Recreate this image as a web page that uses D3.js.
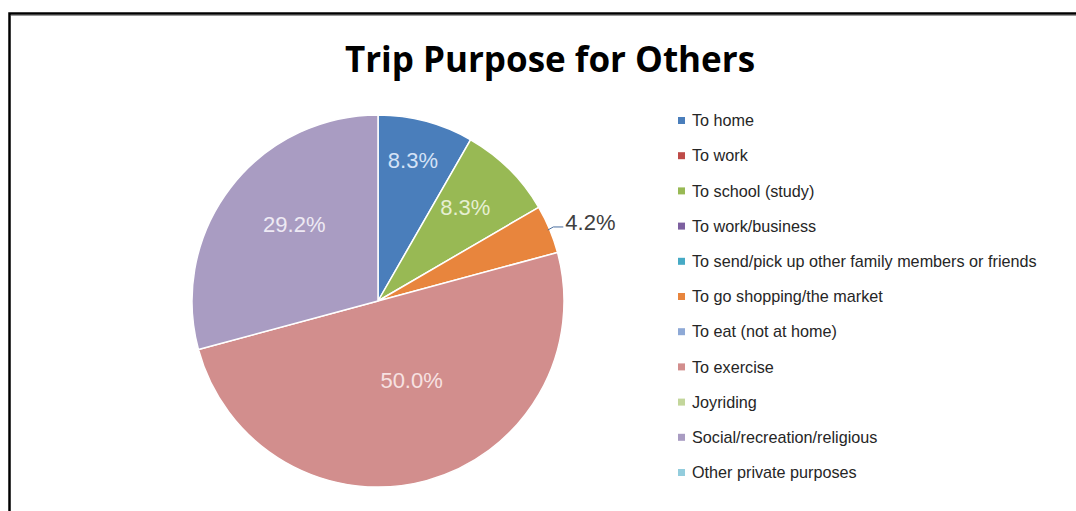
<!DOCTYPE html>
<html>
<head>
<meta charset="utf-8">
<script src="https://cdn.jsdelivr.net/npm/d3@7"></script>
<style>
  html, body { margin: 0; padding: 0; background: #fff; }
  svg { display: block; }
</style>
</head>
<body>
<svg id="chart" width="1076" height="511"></svg>
<script>
// Trip purposes (legend order) and their shares in percent
const categories = [
  "To home",
  "To work",
  "To school (study)",
  "To work/business",
  "To send/pick up other family members or friends",
  "To go shopping/the market",
  "To eat (not at home)",
  "To exercise",
  "Joyriding",
  "Social/recreation/religious",
  "Other private purposes"
];
const shares = [8.3, 0, 8.3, 0, 0, 4.2, 0, 50.0, 0, 29.2, 0];
const percentLabels = ["8.3%", "", "8.3%", "", "", "4.2%", "", "50.0%", "", "29.2%", ""];

const sliceColors = [
  "#4a7ebb", "#be4b48", "#98b954", "#7d60a0", "#46aac5", "#e8853d",
  "#8ea9d6", "#d28e8d", "#c3d69b", "#a99cc2", "#93cddd"
];
const labelColors = [
  "#d4e2f6", "#fff", "#e6efd2", "#fff", "#fff", "#404040",
  "#fff", "#f7e2e2", "#fff", "#eeeaf4", "#fff"
];

const svg = d3.select("#chart");
const W = 1076, H = 511;

// Frame around the chart
svg.append("rect")
  .attr("x", 9.5).attr("y", 13.5)
  .attr("width", W + 40).attr("height", H + 40)
  .attr("fill", "none").attr("stroke", "#000").attr("stroke-width", 2.5);
svg.append("line")
  .attr("x1", 11).attr("x2", W + 10).attr("y1", 15.5).attr("y2", 15.5)
  .attr("stroke", "#999").attr("stroke-width", 1);

// Title
svg.append("text")
  .attr("x", 550).attr("y", 72)
  .attr("text-anchor", "middle")
  .attr("font-family", "'Open Sans', 'Liberation Sans', sans-serif")
  .attr("font-weight", "bold")
  .attr("font-size", 35)
  .attr("fill", "#000")
  .text("Trip Purpose for Others");

// Pie
const cx = 378, cy = 301, R = 186;
const pie = d3.pie().sort(null).value(d => d.value);
const data = categories.map((c, i) => ({
  name: c, value: shares[i], label: percentLabels[i],
  color: sliceColors[i], labelColor: labelColors[i]
}));
const arcs = pie(data);
const arc = d3.arc().innerRadius(0).outerRadius(R);

const g = svg.append("g").attr("transform", `translate(${cx},${cy})`);
g.selectAll("path.slice")
  .data(arcs.filter(a => a.data.value > 0))
  .join("path")
  .attr("class", "slice")
  .attr("d", arc)
  .attr("fill", a => a.data.color)
  .attr("stroke", "#fff")
  .attr("stroke-width", 1.5)
  .attr("stroke-linejoin", "round");

// Inside-label placement: radius fraction and angular nudge (degrees) from the slice middle
const labelPlace = {
  "To home": { r: 0.78, turn: -1 },
  "To school (study)": { r: 0.69, turn: -2 },
  "To exercise": { r: 0.46, turn: -8 },
  "Social/recreation/religious": { r: 0.61, turn: 5 }
};

const labelFont = "'Liberation Sans', 'DejaVu Sans', sans-serif";
arcs.filter(a => a.data.value > 0).forEach(a => {
  const name = a.data.name;
  const place = labelPlace[name];
  if (place) {
    const mid = (a.startAngle + a.endAngle) / 2 + place.turn * Math.PI / 180;
    const r = R * place.r;
    g.append("text")
      .attr("x", r * Math.sin(mid))
      .attr("y", -r * Math.cos(mid))
      .attr("dy", "0.36em")
      .attr("text-anchor", "middle")
      .attr("font-family", labelFont)
      .attr("font-size", 22)
      .attr("fill", a.data.labelColor)
      .text(a.data.label);
  } else {
    // small slice: label outside with a short leader line
    const mid = (a.startAngle + a.endAngle) / 2;
    const p0 = [(R - 2) * Math.sin(mid), -(R - 2) * Math.cos(mid)];
    const p1 = [(R + 4) * Math.sin(mid), -(R + 6) * Math.cos(mid)];
    const p2 = [p1[0] + 10, p1[1]];
    g.append("path")
      .attr("d", d3.line()([p0, p1, p2]))
      .attr("fill", "none")
      .attr("stroke", "#4a6fa0")
      .attr("stroke-width", 1);
    g.append("text")
      .attr("x", p2[0] + 2)
      .attr("y", p2[1] - 5)
      .attr("dy", "0.36em")
      .attr("text-anchor", "start")
      .attr("font-family", labelFont)
      .attr("font-size", 22)
      .attr("fill", a.data.labelColor)
      .text(a.data.label);
  }
});

// Legend
const legendY = d3.scalePoint().domain(categories).range([120.5, 472.5]);
const legend = svg.append("g");
const rows = legend.selectAll("g.row")
  .data(data)
  .join("g")
  .attr("class", "row")
  .attr("transform", d => `translate(678,${legendY(d.name)})`);
rows.append("rect")
  .attr("x", 0).attr("y", -3.5)
  .attr("width", 7).attr("height", 7)
  .attr("fill", d => d.color);
rows.append("text")
  .attr("x", 14).attr("y", 0)
  .attr("dy", "0.35em")
  .attr("font-family", "'Liberation Sans', 'DejaVu Sans', sans-serif")
  .attr("font-size", 16.2)
  .attr("fill", "#262626")
  .text(d => d.name);
</script>
</body>
</html>
